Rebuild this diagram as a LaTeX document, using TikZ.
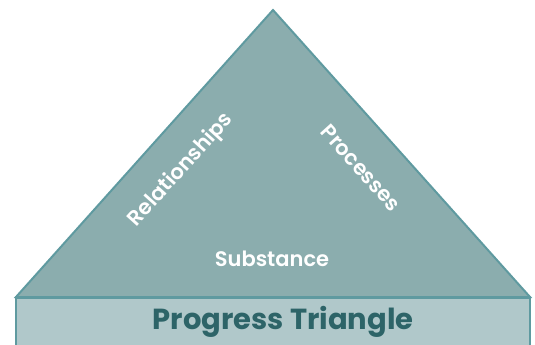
\documentclass[tikz,border=0pt]{standalone}
\usepackage{fontspec}
\setmainfont{Poppins}
\newfontfamily\labelfont{Poppins SemiBold}
\usepackage{xcolor}
\definecolor{trifill}{HTML}{8BADAE}
\definecolor{triedge}{HTML}{5F9AA0}
\definecolor{barfill}{HTML}{B0C8CA}
\definecolor{titlecol}{HTML}{2D6468}

\begin{document}
\begin{tikzpicture}[line cap=round,line join=miter,x=1pt,y=-1pt]
                \useasboundingbox (0,0) rectangle (535,345);
                \draw [line width=2pt,color=triedge,fill=trifill] (273,10)-- (16,297)-- (530,297)-- cycle;
                \draw [line width=1.2pt,color=triedge,fill=barfill] (16,298) rectangle (530,352);
                \draw [line width=2pt,color=triedge] (16,297)-- (530,297);
                \node[color=white,rotate=48] (rel) at (181,170) {\fontsize{21}{23}\selectfont\labelfont Relationships};
                \node[color=white,rotate=-48] (pro) at (361,168) {\fontsize{21}{23}\selectfont\labelfont Processes};
                \node[color=white] (sub) at (272,259) {\fontsize{21}{23}\selectfont\labelfont Substance};
                \node[color=titlecol] (title) at (283,322) {\fontsize{29}{32}\selectfont\bfseries Progress Triangle};
\end{tikzpicture}
\end{document}
